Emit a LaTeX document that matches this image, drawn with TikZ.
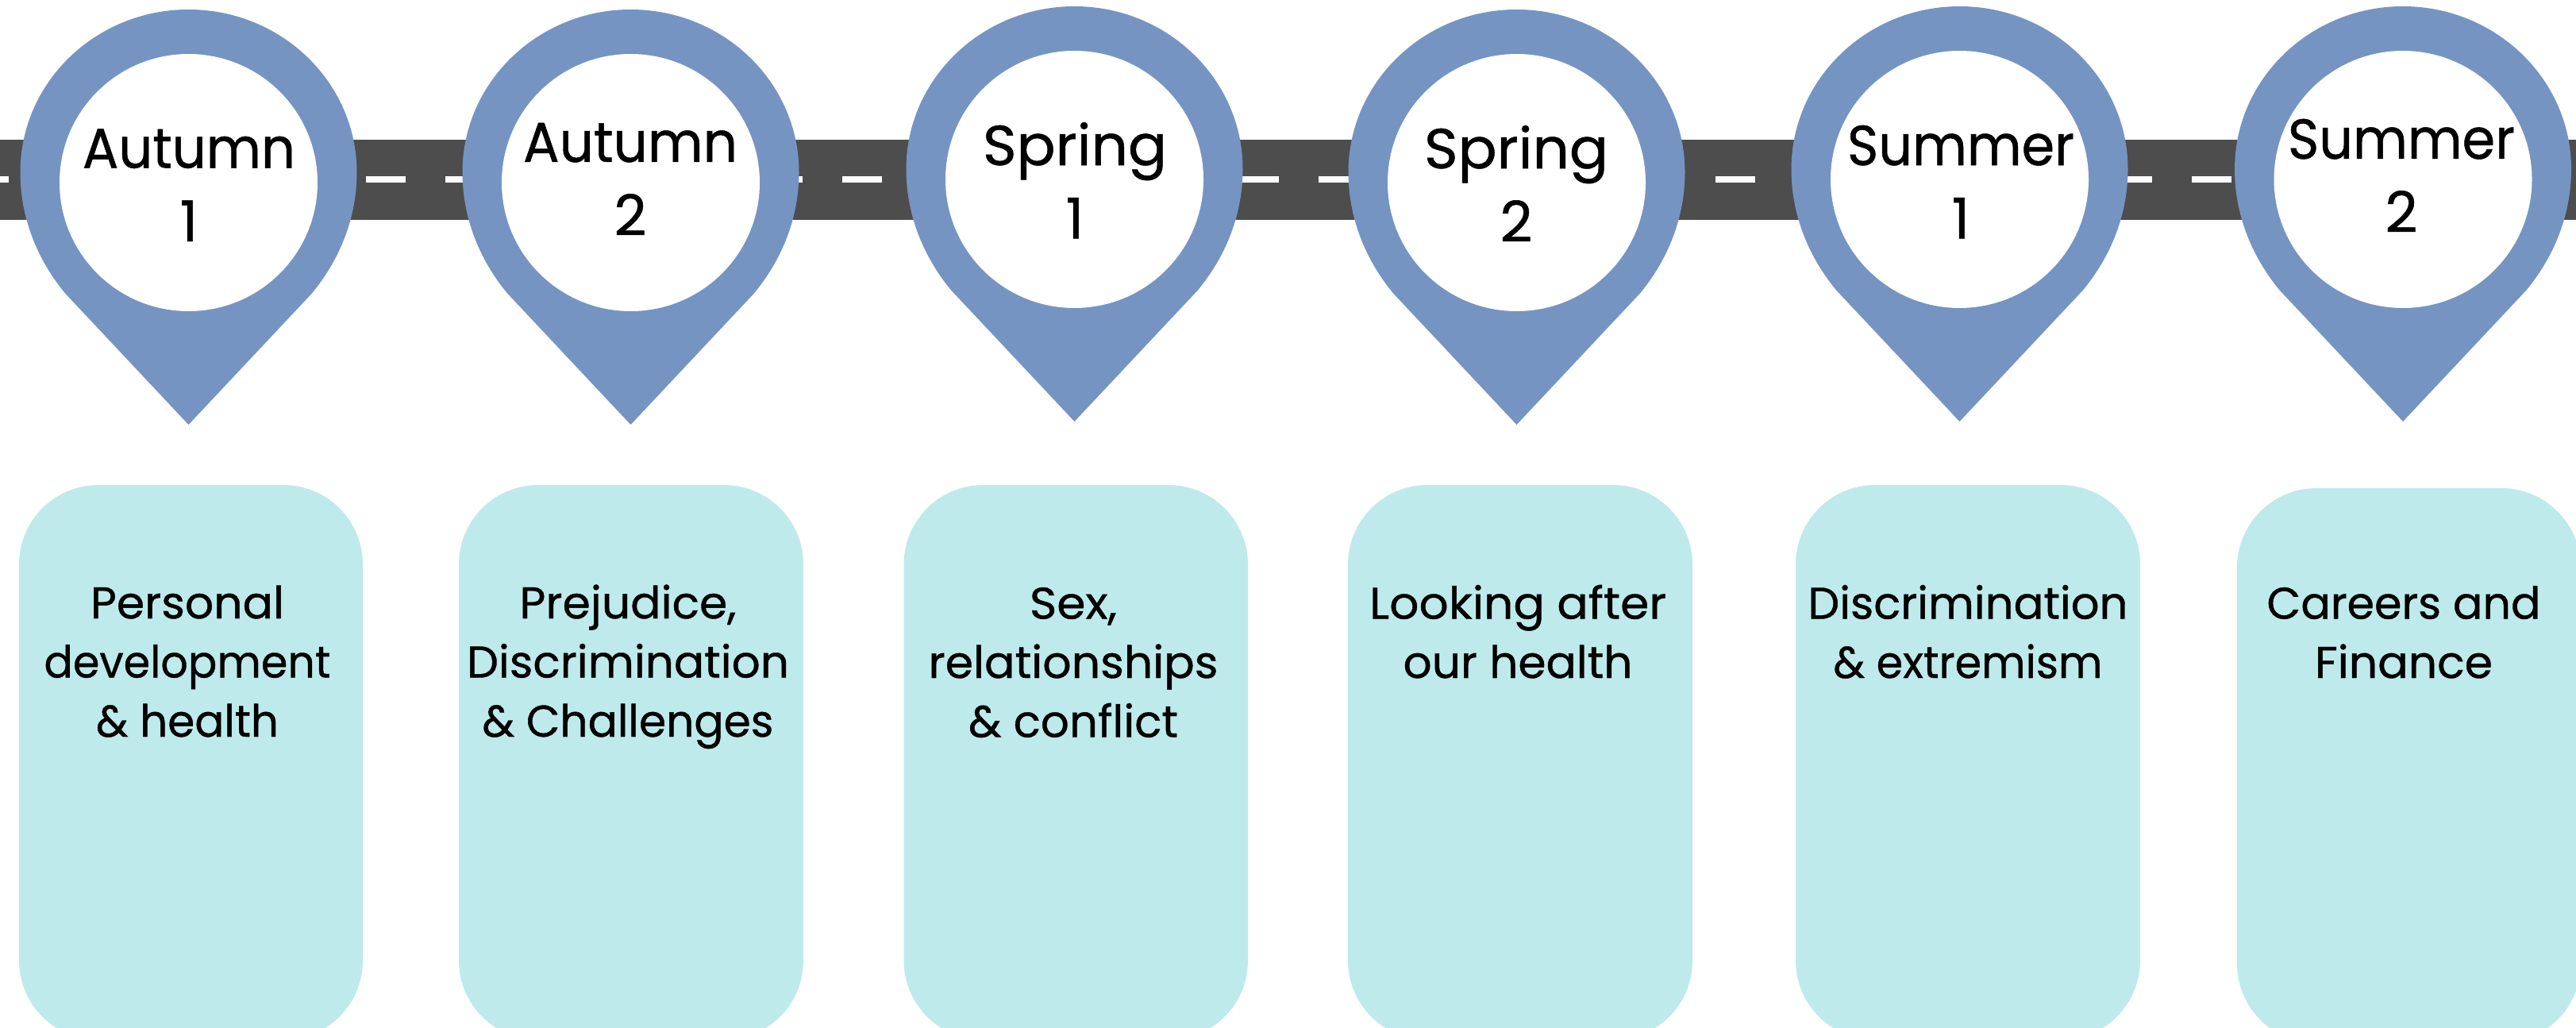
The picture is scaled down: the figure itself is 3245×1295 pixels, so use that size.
\documentclass[tikz,border=0pt]{standalone}
\usepackage{graphicx}
\usepackage{fontspec}
\setmainfont{Poppins}[RawFeature={embolden=0.7}]
\definecolor{pinblue}{HTML}{7594C2}
\definecolor{roadgrey}{HTML}{4D4D4D}
\definecolor{boxteal}{HTML}{BEEAEB}
\newsavebox{\fitbox}
% one line of text, stretched to a measured width
\newcommand{\fitw}[2]{\sbox{\fitbox}{#2}\pgfmathsetmacro{\fitr}{#1/\wd\fitbox}\scalebox{\fitr}[1]{\usebox{\fitbox}}}
\newcommand{\stackA}[2]{\vtop{\baselineskip=92.5pt\lineskiplimit=-100pt\halign{\hfil##\hfil\cr #1\cr #2\cr}}}
\newcommand{\stackB}[2]{\vtop{\baselineskip=74.5pt\lineskiplimit=-100pt\halign{\hfil##\hfil\cr #1\cr #2\cr}}}
\newcommand{\stackC}[3]{\vtop{\baselineskip=74.5pt\lineskiplimit=-100pt\halign{\hfil##\hfil\cr #1\cr #2\cr #3\cr}}}
\tikzset{
  road/.style={fill=roadgrey},
  roaddash/.style={fill=white},
  pinbody/.style={fill=pinblue},
  pinhole/.style={fill=white},
  topicbox/.style={fill=boxteal,rounded corners=100pt},
  seasonlabel/.style={anchor=base,inner sep=0pt,font=\fontsize{71}{92.5}\selectfont,text=black},
  topiclabel/.style={anchor=base,inner sep=0pt,font=\fontsize{56}{74.5}\selectfont,text=black}
}
\newcommand{\pinat}[2]{%
  \begin{scope}[shift={(#1,#2)}]
    \fill[pinbody] (0,535) -- (-155,370)
      .. controls (-190,328) and (-212,275) .. (-212,217)
      .. controls (-212,104) and (-117,12) .. (0,12)
      .. controls (117,12) and (212,104) .. (212,217)
      .. controls (212,275) and (190,328) .. (155,370) -- cycle;
    \fill[pinhole] (0,230) ellipse [x radius=162.5,y radius=162];
  \end{scope}}
\begin{document}
\begin{tikzpicture}[x=1pt,y=-1pt]
\useasboundingbox (0,0) rectangle (3245,1295);
\clip (0,0) rectangle (3245,1295);
% road
\fill[road] (0,176) rectangle (3245,277);
\foreach \d in {-39,61,...,3261} \fill[roaddash] (\d,222) rectangle ++(50,8);
% pins
\pinat{237.5}{0}
\pinat{794.5}{0}
\pinat{1353.5}{-4}
\pinat{1910.5}{0}
\pinat{2468.5}{-4}
\pinat{3027}{-4}
% boxes
\fill[topicbox] (24,611) rectangle (457,1310);
\fill[topicbox] (578,611) rectangle (1012,1310);
\fill[topicbox] (1138.5,611) rectangle (1572,1310);
\fill[topicbox] (1698,611) rectangle (2132,1310);
\fill[topicbox] (2262,611) rectangle (2696,1310);
\fill[topicbox] (2818,615) rectangle (3251,1314);
% season labels
\node[seasonlabel] (s1) at (238,211.5) {\stackA{\fitw{268}{Autumn}}{1}};
\node[seasonlabel] (s2) at (794,204) {\stackA{\fitw{270}{Autumn}}{2}};
\node[seasonlabel] (s3) at (1354,208) {\stackA{\fitw{232}{Spring}}{1}};
\node[seasonlabel] (s4) at (1910,212) {\stackA{\fitw{232}{Spring}}{2}};
\node[seasonlabel] (s5) at (2470,208) {\stackA{\fitw{286}{Summer}}{1}};
\node[seasonlabel] (s6) at (3025,200) {\stackA{\fitw{286}{Summer}}{2}};
% topic labels
\node[topiclabel] (t1) at (236,779) {\stackC{\fitw{244}{Personal}}{\fitw{361}{development}}{\fitw{230}{\& health}}};
\node[topiclabel] (t2) at (791,779) {\stackC{\fitw{273}{Prejudice,}}{\fitw{406}{Discrimination}}{\fitw{367}{\& Challenges}}};
\node[topiclabel] (t3) at (1352,779.5) {\stackC{\fitw{110}{Sex,}}{\fitw{365}{relationships}}{\fitw{264}{\& conflict}}};
\node[topiclabel] (t4) at (1912,779.5) {\stackB{\fitw{374}{Looking after}}{\fitw{289}{our health}}};
\node[topiclabel] (t5) at (2479,779.5) {\stackB{\fitw{403}{Discrimination}}{\fitw{339}{\& extremism}}};
\node[topiclabel] (t6) at (3028,779.5) {\stackB{\fitw{345}{Careers and}}{\fitw{224}{Finance}}};
\end{tikzpicture}
\end{document}
